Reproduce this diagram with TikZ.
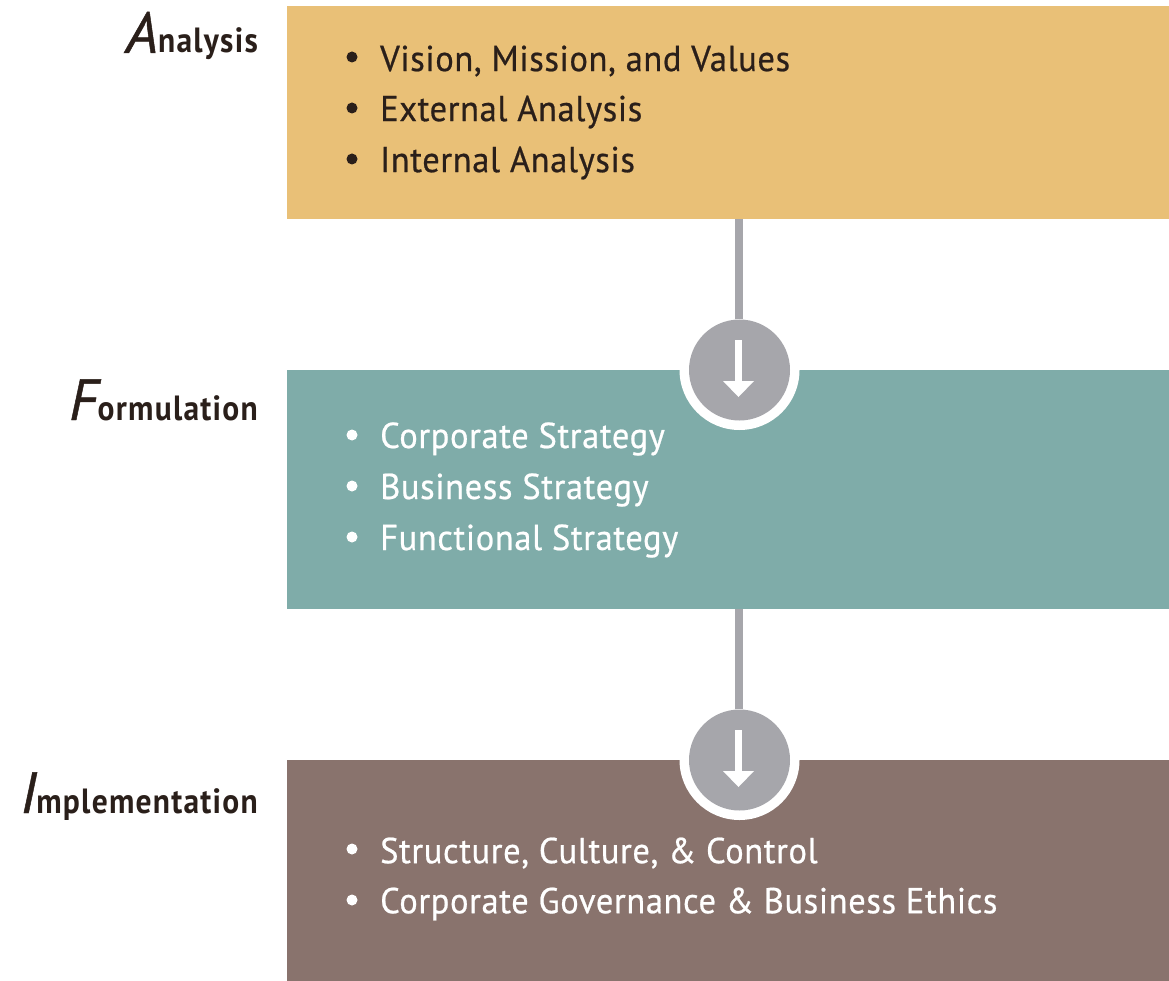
\documentclass[tikz,border=0pt]{standalone}
\usepackage{fontspec}
\setmainfont{PT Sans}
\newfontfamily\itemfont[LetterSpace=1.8,FakeBold=0.6,FakeStretch=0.957]{PT Sans}
\newfontfamily\sidefont[LetterSpace=3.6,FakeStretch=0.9]{PT Sans Bold}
\newfontfamily\capfont[FakeBold=0.8]{PT Sans Italic}
\definecolor{cA}{HTML}{E9C077}
\definecolor{cF}{HTML}{7FACA9}
\definecolor{cI}{HTML}{89736D}
\definecolor{cG}{HTML}{A6A6AB}
\definecolor{cT}{HTML}{2A1F1A}
\tikzset{
 panel/.style={inner sep=0pt,anchor=north west,minimum width=882pt},
 itemd/.style={anchor=west,inner sep=0pt,font=\itemfont\fontsize{36}{36}\selectfont},
 dotn/.style={circle,inner sep=0pt,minimum size=11pt},
 side/.style={anchor=base east,inner sep=0pt,text=cT,font=\sidefont\fontsize{35}{35}\selectfont},
 linkline/.style={line width=8pt,draw=cG},
 ring/.style={circle,fill=white,minimum size=120pt,inner sep=0pt},
 disc/.style={circle,fill=cG,minimum size=101pt,inner sep=0pt},
}
\newcommand{\bigi}[1]{{\capfont\fontsize{58}{58}\selectfont #1}}
\begin{document}
\begin{tikzpicture}[x=1pt,y=-1pt]
\useasboundingbox (0,0) rectangle (1169,981);
\fill[white] (0,0) rectangle (1169,981);
\node[panel,fill=cA,minimum height=213pt] (pa) at (287,6) {};
\node[panel,fill=cF,minimum height=239pt] (pf) at (287,370) {};
\node[panel,fill=cI,minimum height=221pt] (pi) at (287,760) {};
\coordinate (d1) at (738.5,370);
\coordinate (d2) at (738.5,760);
\node[ring] (r1) at (739.5,370) {};
\node[ring] (r2) at (739.5,760) {};
\fill[white] (660,300) rectangle (820,369.5);
\fill[white] (660,690) rectangle (820,759.5);
\node[disc] (c1) at (739.5,370) {};
\node[disc] (c2) at (739.5,760) {};
\draw[linkline] (pa.south -| d1) -- (c1.north -| d1);
\draw[linkline] (pf.south -| d2) -- (c2.north -| d2);
\foreach \c/\y in {c1/370,c2/760}{
 \coordinate (a1) at (738.5,\y-30);
 \coordinate (a2) at (738.5,\y+16);
 \draw[white,line width=6.5pt] (a1) -- (a2);
 \fill[white] (723,\y+11) -- (754,\y+11) -- (738.5,\y+27) -- cycle;
}
\node[side] (la) at (258,53) {\bigi{A}nalysis};
\node[side] (lf) at (258,420) {\bigi{F}ormulation};
\node[side] (li) at (258,813) {\bigi{I}mplementation};
\foreach \n/\y/\t/\col in {
 a1/59/{Vision, Mission, and Values}/cT,
 a2/110/{External Analysis}/cT,
 a3/161/{Internal Analysis}/cT,
 f1/437/{Corporate Strategy}/white,
 f2/488/{Business Strategy}/white,
 f3/539/{Functional Strategy}/white,
 i1/851/{Structure, Culture, \& Control}/white,
 i2/902/{Corporate Governance \& Business Ethics}/white}{
 \node[dotn,fill=\col] (b\n) at (352,\y-2) {};
 \node[itemd,text=\col] (t\n) at (380,\y+2) {\t};
}
\end{tikzpicture}
\end{document}
